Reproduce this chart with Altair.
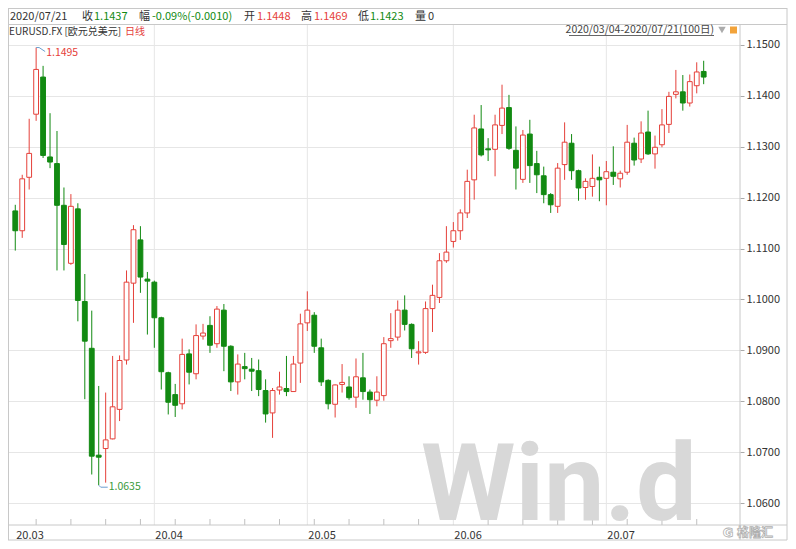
import altair as alt
import pandas as pd
import numpy as np

# ---------------- data ----------------
opens = [1.1174, 1.1135, 1.1240, 1.1364, 1.1437, 1.1280, 1.1267, 1.1185, 1.1071, 1.1178,
         1.0996, 1.0904, 1.0694, 1.0707, 1.0726, 1.0784, 1.0881, 1.1032, 1.1117, 1.1040,
         1.1034, 1.0964, 1.0856, 1.0813, 1.0795, 1.0893, 1.0854, 1.0928, 1.0949, 1.0913,
         1.0979, 1.0908, 1.0838, 1.0868, 1.0863, 1.0860, 1.0821, 1.0777, 1.0822, 1.0825,
         1.0819, 1.0875, 1.0954, 1.0969, 1.0905, 1.0841, 1.0794, 1.0833, 1.0828, 1.0808,
         1.0846, 1.0818, 1.0802, 1.0811, 1.0919, 1.0926, 1.0979, 1.0951, 1.0895, 1.0896,
         1.0982, 1.1004, 1.1076, 1.1114, 1.1135, 1.1170, 1.1235, 1.1335, 1.1295, 1.1295,
         1.1342, 1.1377, 1.1293, 1.1236, 1.1325, 1.1267, 1.1243, 1.1206, 1.1183, 1.1265,
         1.1307, 1.1253, 1.1220, 1.1222, 1.1240, 1.1238, 1.1250, 1.1237, 1.1250, 1.1307,
         1.1276, 1.1329, 1.1286, 1.1304, 1.1344, 1.1403, 1.1408, 1.1386, 1.1420, 1.1448]
highs = [1.1186, 1.1245, 1.1355, 1.1495, 1.1459, 1.1366, 1.1331, 1.1220, 1.1207, 1.1189,
         1.1050, 1.0978, 1.0830, 1.0817, 1.0889, 1.0890, 1.1057, 1.1146, 1.1144, 1.1054,
         1.1037, 1.0966, 1.0858, 1.0834, 1.0923, 1.0902, 1.0951, 1.0952, 1.0967, 1.0987,
         1.0991, 1.0910, 1.0892, 1.0895, 1.0885, 1.0882, 1.0843, 1.0826, 1.0858, 1.0889,
         1.0889, 1.0972, 1.1016, 1.0975, 1.0923, 1.0843, 1.0833, 1.0873, 1.0849, 1.0884,
         1.0895, 1.0823, 1.0849, 1.0926, 1.0973, 1.0998, 1.1008, 1.0953, 1.0918, 1.0996,
         1.1029, 1.1091, 1.1144, 1.1152, 1.1177, 1.1255, 1.1363, 1.1382, 1.1317, 1.1363,
         1.1422, 1.1402, 1.1340, 1.1333, 1.1353, 1.1292, 1.1261, 1.1209, 1.1268, 1.1348,
         1.1325, 1.1255, 1.1238, 1.1285, 1.1261, 1.1272, 1.1301, 1.1253, 1.1343, 1.1318,
         1.1350, 1.1371, 1.1322, 1.1374, 1.1408, 1.1451, 1.1441, 1.1442, 1.1466, 1.1469]
lows = [1.1096, 1.1121, 1.1216, 1.1351, 1.1278, 1.1258, 1.1057, 1.1057, 1.1068, 1.0957,
        1.0804, 1.0656, 1.0635, 1.0640, 1.0725, 1.0761, 1.0872, 1.0954, 1.1013, 1.0931,
        1.0905, 1.0823, 1.0774, 1.0769, 1.0784, 1.0833, 1.0843, 1.0921, 1.0895, 1.0905,
        1.0859, 1.0820, 1.0813, 1.0843, 1.0820, 1.0810, 1.0758, 1.0728, 1.0813, 1.0810,
        1.0819, 1.0836, 1.0938, 1.0895, 1.0830, 1.0784, 1.0768, 1.0817, 1.0803, 1.0787,
        1.0803, 1.0775, 1.0790, 1.0801, 1.0905, 1.0919, 1.0939, 1.0885, 1.0872, 1.0893,
        1.0936, 1.0993, 1.1072, 1.1102, 1.1117, 1.1160, 1.1196, 1.1281, 1.1272, 1.1242,
        1.1325, 1.1294, 1.1216, 1.1229, 1.1229, 1.1209, 1.1189, 1.1170, 1.1170, 1.1235,
        1.1235, 1.1194, 1.1196, 1.1202, 1.1193, 1.1185, 1.1225, 1.1220, 1.1245, 1.1263,
        1.1268, 1.1284, 1.1257, 1.1299, 1.1327, 1.1395, 1.1371, 1.1379, 1.1405, 1.1423]
closes = [1.1135, 1.1237, 1.1287, 1.1452, 1.1283, 1.1270, 1.1185, 1.1108, 1.1183, 1.0998,
          1.0918, 1.0692, 1.0690, 1.0724, 1.0789, 1.0880, 1.1034, 1.1137, 1.1044, 1.1036,
          1.0964, 1.0858, 1.0798, 1.0792, 1.0892, 1.0857, 1.0929, 1.0934, 1.0910, 1.0981,
          1.0908, 1.0838, 1.0873, 1.0864, 1.0859, 1.0823, 1.0775, 1.0821, 1.0828, 1.0819,
          1.0873, 1.0952, 1.0979, 1.0908, 1.0838, 1.0795, 1.0832, 1.0837, 1.0807, 1.0848,
          1.0819, 1.0803, 1.0818, 1.0913, 1.0923, 1.0979, 1.0951, 1.0903, 1.0897, 1.0982,
          1.1008, 1.1076, 1.1093, 1.1135, 1.1170, 1.1232, 1.1337, 1.1284, 1.1295, 1.1343,
          1.1376, 1.1297, 1.1258, 1.1323, 1.1263, 1.1245, 1.1206, 1.1186, 1.1258, 1.1309,
          1.1253, 1.1219, 1.1232, 1.1238, 1.1235, 1.1251, 1.1242, 1.1248, 1.1309, 1.1274,
          1.1327, 1.1286, 1.1299, 1.1343, 1.1399, 1.1408, 1.1386, 1.1428, 1.1447, 1.1437]

month_idx = [0, 20, 42, 63, 85]
month_labels = ["20.03", "20.04", "20.05", "20.06", "20.07"]
week_idx = [3, 8, 13, 18, 23, 28, 33, 38, 43, 48, 53, 58, 68, 73, 78, 83, 88, 93, 98]
y_ticks = [1.06, 1.07, 1.08, 1.09, 1.10, 1.11, 1.12, 1.13, 1.14, 1.15]

# ---------------- styling ----------------
FONT = "Noto Sans CJK SC"
RED = "#e5403a"
GREEN = "#128a12"
GRID = "#e6e6e6"
BORDER = "#c8c8c8"
TXT = "#333333"
W, H = 732, 501

n = len(opens)
df = pd.DataFrame({"i": np.arange(n), "o": opens, "h": highs, "l": lows, "c": closes})
df["dir"] = np.where(df["c"] > df["o"], "up", "down")
top = df[["o", "c"]].max(axis=1)
bot = df[["o", "c"]].min(axis=1)
mid = (top + bot) / 2
thin = (top - bot) < 0.0002
df["bt"] = np.where(thin, mid + 0.0001, top)
df["bb"] = np.where(thin, mid - 0.0001, bot)

xscale = alt.Scale(domain=[-2.3 / 7.05, (W - 2.3) / 7.05], nice=False, zero=False)
yscale = alt.Scale(domain=[1.055677, 1.1541265], nice=False, zero=False)
yaxis = alt.Axis(orient="right", values=y_ticks, format=".4f", grid=True, gridColor=GRID,
                 gridWidth=1, domain=False, ticks=True, tickColor="#aaaaaa", tickSize=4,
                 labelColor=TXT, labelFontSize=11, labelFont=FONT, labelPadding=2, title=None)


def X(f="i"):
    return alt.X(f + ":Q", scale=xscale, axis=None)


def Y(f):
    return alt.Y(f + ":Q", scale=yscale, axis=yaxis)


dirc = alt.Color("dir:N", scale=alt.Scale(domain=["up", "down"], range=[RED, GREEN]), legend=None)

base = alt.Chart(df)
one = alt.Chart(pd.DataFrame({"k": [0]}))

# month grid lines
mdf = pd.DataFrame({"i": month_idx, "lab": month_labels})
month_grid = alt.Chart(mdf[mdf["i"] > 0]).mark_rule(color=GRID, strokeWidth=1).encode(x=X())
week_ticks = alt.Chart(pd.DataFrame({"i": week_idx})).mark_rule(color="#c0c0c0").encode(
    x=X(), y=alt.value(H - 6), y2=alt.value(H))
month_text = alt.Chart(mdf).mark_text(align="left", baseline="middle", dx=1, font=FONT,
                                      fontSize=11, color=TXT).encode(
    x=X(), y=alt.value(H + 11), text="lab:N")

# watermark
watermark = one.mark_text(text="Win.d", font="Roboto", fontWeight="bold", fontSize=108,
                          color="#d8d8d8", align="left", baseline="alphabetic").encode(
    x=alt.value(413), y=alt.value(496))

wicks = base.mark_rule(strokeWidth=1).encode(x=X(), y=Y("l"), y2="h:Q", color=dirc)
bodies = base.mark_bar(size=4.8, strokeWidth=1).encode(
    x=X(), y=Y("bb"), y2="bt:Q",
    fill=alt.Fill("dir:N", scale=alt.Scale(domain=["up", "down"], range=["white", GREEN]), legend=None),
    stroke=alt.Stroke("dir:N", scale=alt.Scale(domain=["up", "down"], range=[RED, GREEN]), legend=None))

# extreme annotations
ih = int(np.argmax(highs))
il = int(np.argmin(lows))
hdf = pd.DataFrame({"i": [ih], "v": [highs[ih]], "t": [f"{highs[ih]:.4f}"]})
ldf = pd.DataFrame({"i": [il], "v": [lows[il]], "t": [f"{lows[il]:.4f}"]})
LEAD = "#6a9fcf"
hi_l1 = alt.Chart(hdf).mark_rule(color=LEAD, x2Offset=3).encode(x=X(), x2="i:Q", y=Y("v"), y2="v:Q")
hi_l2 = alt.Chart(hdf).mark_rule(color=LEAD, xOffset=3, x2Offset=9, y2Offset=4).encode(
    x=X(), x2="i:Q", y=Y("v"), y2="v:Q")
hi_t = alt.Chart(hdf).mark_text(align="left", baseline="middle", dx=10, dy=5, font=FONT,
                                fontSize=10.5, color=RED).encode(x=X(), y=Y("v"), text="t:N")
lo_l1 = alt.Chart(ldf).mark_rule(color=LEAD, x2Offset=2, y2Offset=2).encode(
    x=X(), x2="i:Q", y=Y("v"), y2="v:Q")
lo_l2 = alt.Chart(ldf).mark_rule(color=LEAD, xOffset=2, yOffset=2, x2Offset=9, y2Offset=2).encode(
    x=X(), x2="i:Q", y=Y("v"), y2="v:Q")
lo_t = alt.Chart(ldf).mark_text(align="left", baseline="middle", dx=10, dy=2, font=FONT,
                                fontSize=10.5, color="#3a9a3a").encode(x=X(), y=Y("v"), text="t:N")


# frame lines
def hline(y, x1, x2, color=BORDER):
    return one.mark_rule(color=color, strokeWidth=1).encode(
        x=alt.value(x1), x2=alt.value(x2), y=alt.value(y))


def vline(x, y1, y2, color=BORDER):
    return one.mark_rule(color=color, strokeWidth=1).encode(
        x=alt.value(x), y=alt.value(y1), y2=alt.value(y2))


frame = [hline(-15.5, 0, 779), hline(0.5, 0, 779), hline(H, 0, 779), hline(516, 0, 779),
         vline(0.5, -16, 516), vline(779, -16, 516), vline(W, 0, 516)]


def txt(s, x, y, color=TXT, size=11, align="left"):
    return one.mark_text(text=s, font=FONT, fontSize=size, color=color, align=align,
                         baseline="middle").encode(x=alt.value(x), y=alt.value(y))


last = n - 1
chg = closes[last] - closes[last - 1]
pct = chg / closes[last - 1] * 100
HY = -7.5
header = [
    txt("2020/07/21", 2, HY),
    txt("收", 74, HY), txt(f"{closes[last]:.4f}", 86, HY, GREEN if chg < 0 else RED),
    txt("幅", 131, HY), txt(f"{pct:.2f}%({chg:.4f})", 144, HY, GREEN if chg < 0 else RED),
    txt("开", 236, HY), txt(f"{opens[last]:.4f}", 249, HY, RED),
    txt("高", 293, HY), txt(f"{highs[last]:.4f}", 306, HY, RED),
    txt("低", 350, HY), txt(f"{lows[last]:.4f}", 362, HY, GREEN),
    txt("量", 407, HY), txt("0", 420, HY),
    txt("EURUSD.FX [欧元兑美元]", 1, 7.5, TXT, 10), txt("日线", 117, 7.5, RED, 10),
    txt("2020/03/04-2020/07/21(100日)", 706, 6, "#444444", 10.5, "right"),
    hline(11.5, 561, 706, "#666666"),
    one.mark_point(shape="triangle-down", filled=True, size=55, color="#888888").encode(
        x=alt.value(714), y=alt.value(6)),
    one.mark_rect(color="#f2a33a").encode(x=alt.value(722), x2=alt.value(729),
                                          y=alt.value(2.5), y2=alt.value(9.5)),
    one.mark_text(text="G", font="DejaVu Sans", fontSize=13, fontWeight="bold", fill="white",
                  stroke="#b0b0b0", strokeWidth=0.8, align="center", baseline="middle").encode(
        x=alt.value(720), y=alt.value(509)),
    one.mark_text(text="格隆汇", font=FONT, fontSize=12, fontWeight="bold", fill="white",
                  stroke="#b0b0b0", strokeWidth=0.8, align="left", baseline="middle").encode(
        x=alt.value(729), y=alt.value(509)),
]

chart = alt.layer(
    month_grid, week_ticks, watermark, wicks, bodies,
    hi_l1, hi_l2, hi_t, lo_l1, lo_l2, lo_t, month_text,
    *frame, *header
).properties(
    width=W, height=H,
    padding={"left": 0, "top": 16, "right": 48, "bottom": 16},
    autosize=alt.AutoSizeParams(type="none"),
    background="white",
).configure_view(stroke=None)

chart.save("out.html", embed_options={"renderer": "svg", "actions": False})
